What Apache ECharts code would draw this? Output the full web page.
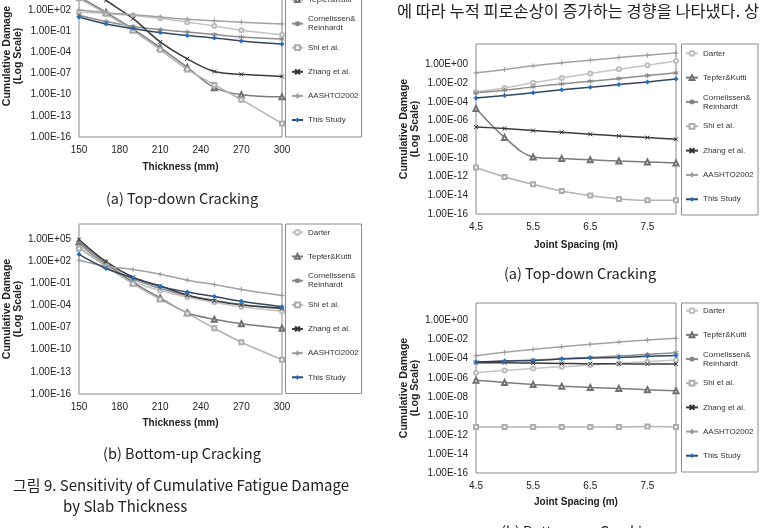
<!DOCTYPE html>
<html>
<head>
<meta charset="utf-8">
<script src="https://cdn.jsdelivr.net/npm/echarts@6/dist/echarts.min.js"></script>
<style>
html, body { margin: 0; padding: 0; background: #fff; }
#chart { width: 761px; height: 528px; }
</style>
</head>
<body>
<div id="chart"></div>
<script>
// 범례 순서
var seriesNames = ['Darter', 'Tepfer&Kutti', 'Cornelissen&Reinhardt', 'Shi et al.', 'Zhang et al.', 'AASHTO2002', 'This Study'];

// x 값
var thickness = [150, 170, 190, 210, 230, 250, 270, 300];
var jointSpacing = [4.5, 5, 5.5, 6, 6.5, 7, 7.5, 8];

// 누적 피로손상의 log10 값 (행 순서 = seriesNames)
var thickTopDown = [
  [1.76, 1.55, 1.25, 0.85, 0.3, -0.25, -0.85, -1.5],
  [3.9, 1.7, -0.7, -3.3, -6.1, -9.0, -10.0, -10.3],
  [1.3, 0.4, -0.3, -0.75, -1.1, -1.45, -1.8, -2.1],
  [3.7, 1.5, -0.9, -3.6, -6.4, -8.6, -10.7, -14.1],
  [6.3, 3.4, 0.8, -2.5, -4.9, -6.7, -7.1, -7.4],
  [2.05, 1.65, 1.35, 1.05, 0.72, 0.5, 0.3, 0.05],
  [1.05, 0.05, -0.6, -1.18, -1.6, -1.95, -2.36, -2.8]
];
var thickBottomUp = [
  [4.0, 1.4, -0.8, -2.0, -2.9, -3.6, -4.2, -4.8],
  [4.6, 1.7, -0.9, -3.0, -5.0, -5.9, -6.5, -7.1],
  [4.4, 1.5, -0.5, -1.7, -2.7, -3.3, -3.9, -4.5],
  [3.7, 1.3, -1.1, -3.2, -5.1, -7.1, -9.0, -11.35],
  [4.9, 1.9, -0.2, -1.4, -2.6, -3.4, -3.95, -4.35],
  [2.1, 1.3, 0.85, 0.2, -0.6, -1.2, -1.85, -2.67],
  [2.9, 0.98, -0.3, -1.44, -2.21, -2.81, -3.45, -4.18]
];
var jointTopDown = [
  [-2.93, -2.5, -1.96, -1.43, -0.96, -0.5, -0.07, 0.39],
  [-4.71, -7.8, -9.89, -10.07, -10.2, -10.32, -10.42, -10.53],
  [-3.03, -2.75, -2.39, -2.07, -1.79, -1.5, -1.18, -0.89],
  [-11.03, -12.03, -12.82, -13.53, -14.03, -14.39, -14.53, -14.53],
  [-6.68, -6.85, -7.07, -7.25, -7.46, -7.64, -7.82, -8.0],
  [-0.89, -0.54, -0.14, 0.18, 0.46, 0.75, 1.0, 1.25],
  [-3.57, -3.32, -3.03, -2.71, -2.43, -2.14, -1.86, -1.54]
];
var jointBottomUp = [
  [-5.47, -5.23, -5.02, -4.84, -4.67, -4.49, -4.32, -4.14],
  [-6.25, -6.49, -6.7, -6.88, -7.02, -7.12, -7.26, -7.37],
  [-4.35, -4.25, -4.14, -4.0, -3.86, -3.72, -3.54, -3.37],
  [-11.16, -11.16, -11.16, -11.16, -11.16, -11.16, -11.12, -11.16],
  [-4.42, -4.42, -4.46, -4.49, -4.53, -4.53, -4.56, -4.56],
  [-3.68, -3.33, -3.02, -2.74, -2.49, -2.25, -2.04, -1.86],
  [-4.35, -4.25, -4.18, -4.04, -3.93, -3.86, -3.75, -3.65]
];

// 스타일
var lineColors = ['#c4c4c4', '#7b7b7b', '#8e8e8e', '#b3b3b3', '#3b3b3b', '#a2a2a2', '#34465f'];
var markerColors = ['#bdbdbd', '#707070', '#858585', '#acacac', '#333333', '#9a9a9a', '#1f6fbe'];
var symbols = ['emptyCircle', 'emptyTriangle', 'path://M4,0L4,8M0,2L8,6M0,6L8,2', 'emptyRect',
  'path://M0,0L8,8M0,8L8,0', 'path://M4,0L4,8M0,4L8,4', 'diamond'];
var symbolSizes = [4, 5, 5, 4, 4, 5, 5];
var font = "'Liberation Sans', Arial, sans-serif";
var krFont = "'Noto Sans CJK KR', sans-serif";

// 네 개 차트 배치
var panels = [
  { data: thickTopDown, xs: thickness, grid: { left: 79, top: -25, width: 203, height: 162 },
    xMin: 150, xMax: 300, xInt: 30, yMax: 7, yInt: 3, xName: 'Thickness (mm)', xGap: 25,
    box: [285.5, -25, 76, 162], legLeft: 291, iconW: 11, legY0: -24.6, legStep: 24.1 },
  { data: thickBottomUp, xs: thickness, grid: { left: 79, top: 224, width: 203, height: 170 },
    xMin: 150, xMax: 300, xInt: 30, yMax: 7, yInt: 3, xName: 'Thickness (mm)', xGap: 24,
    box: [285.5, 224, 76, 169.5], legLeft: 291, iconW: 11, legY0: 232.3, legStep: 24.17 },
  { data: jointTopDown, xs: jointSpacing, grid: { left: 476, top: 44, width: 200, height: 170 },
    xMin: 4.5, xMax: 8, xInt: 1, yMax: 2.2, yInt: 2, xName: 'Joint Spacing (m)', xGap: 26,
    box: [681.5, 44, 76.5, 171], legLeft: 685, iconW: 12, legY0: 53.3, legStep: 24.33 },
  { data: jointBottomUp, xs: jointSpacing, grid: { left: 476, top: 303, width: 200, height: 170 },
    xMin: 4.5, xMax: 8, xInt: 1, yMax: 1.85, yInt: 2, xName: 'Joint Spacing (m)', xGap: 24,
    box: [681.5, 303, 76.5, 169], legLeft: 685, iconW: 12, legY0: 310.7, legStep: 24.17 }
];

function expLabel(v) {
  if (v > 5.5 || Math.abs(v - Math.round(v)) > 1e-6) return '';
  var e = Math.round(v);
  var a = Math.abs(e);
  return '1.00E' + (e < 0 ? '-' : '+') + (a < 10 ? '0' : '') + a;
}

var grids = [], xAxes = [], yAxes = [], series = [], legends = [], graphics = [];

panels.forEach(function (p, c) {
  var g = Object.assign({ show: true, borderColor: '#8a8a8a', borderWidth: 1, backgroundColor: '#fff',
    containLabel: false, outerBoundsMode: 'none' }, p.grid);
  grids.push(g);
  var isJoint = p.xInt === 1;
  xAxes.push({
    type: 'value', gridIndex: c, min: p.xMin, max: p.xMax, interval: p.xInt,
    axisLine: { show: false }, axisTick: { show: false }, splitLine: { show: false },
    axisLabel: { fontSize: 10, color: '#222', fontFamily: font, margin: 8, showMaxLabel: !isJoint,
      formatter: function (v) { return isJoint ? v.toFixed(1) : String(v); } },
    name: p.xName, nameLocation: 'middle', nameGap: p.xGap,
    nameTextStyle: { fontSize: 10, fontWeight: 'bold', color: '#222', fontFamily: font }
  });
  yAxes.push({
    type: 'value', gridIndex: c, min: -16, max: p.yMax, interval: p.yInt,
    axisLine: { show: false }, axisTick: { show: false }, splitLine: { show: false },
    axisLabel: { fontSize: 10, color: '#222', fontFamily: font, margin: 8, showMaxLabel: false,
      formatter: isJoint ? function (v) { return v > 0.5 ? '' : expLabel(v); } : expLabel },
    name: 'Cumulative Damage\n(Log Scale)', nameLocation: 'middle', nameRotate: 90, nameGap: 55,
    nameTextStyle: { fontSize: 10.5, fontWeight: 'bold', color: '#222', fontFamily: font, lineHeight: 11 }
  });
  seriesNames.forEach(function (name, i) {
    var isPath = symbols[i].indexOf('path://') === 0;
    series.push({
      name: name, type: 'line', xAxisIndex: c, yAxisIndex: c,
      data: p.xs.map(function (x, k) { return [x, p.data[i][k]]; }),
      smooth: 0.35, symbol: symbols[i], symbolSize: symbolSizes[i], showAllSymbol: true,
      lineStyle: { color: lineColors[i], width: 1.5 },
      itemStyle: { color: markerColors[i], borderColor: isPath ? markerColors[i] : undefined,
        borderWidth: isPath ? 1 : (i === 6 ? 0 : 1) },
      emphasis: { disabled: true }, z: i === 6 ? 5 : 2
    });
    var twoLine = name === 'Cornelissen&Reinhardt';
    var yc = p.legY0 + i * p.legStep;
    legends.push({
      data: [name], orient: 'vertical', left: p.legLeft, top: twoLine ? yc - 13.5 : yc - 4,
      padding: 0, itemGap: 0, itemWidth: p.iconW, itemHeight: 6, selectedMode: false,
      formatter: function (n) { return n === 'Cornelissen&Reinhardt' ? 'Cornelissen&\nReinhardt' : n; },
      textStyle: twoLine
        ? { fontSize: 8, color: '#333', fontFamily: font, lineHeight: 9, padding: [9, 0, 0, 0] }
        : { fontSize: 8, color: '#333', fontFamily: font }
    });
  });
  graphics.push({
    type: 'rect', shape: { x: p.box[0], y: p.box[1], width: p.box[2], height: p.box[3] },
    style: { fill: '#fff', stroke: '#8a8a8a', lineWidth: 1 }, z: -1
  });
});

function txt(s, x, y, size, align) {
  return { type: 'text', x: x, y: y, z: 10,
    style: { text: s, fontSize: size, fontFamily: krFont, fill: '#222',
      textAlign: align || 'left', textVerticalAlign: 'middle' } };
}
graphics.push(txt('에 따라 누적 피로손상이 증가하는 경향을 나타냈다. 상', 397, 11, 16.4));
graphics.push(txt('(a) Top-down Cracking', 182, 198, 14.5, 'center'));
graphics.push(txt('(a) Top-down Cracking', 580, 273, 14.5, 'center'));
graphics.push(txt('(b) Bottom-up Cracking', 182, 453, 14.5, 'center'));
graphics.push(txt('(b) Bottom-up Cracking', 580, 531, 14.5, 'center'));
graphics.push(txt('그림 9. Sensitivity of Cumulative Fatigue Damage', 13, 485, 15));
graphics.push(txt('by Slab Thickness', 63, 506, 15));

var chart = echarts.init(document.getElementById('chart'));
chart.setOption({
  animation: false,
  backgroundColor: '#fff',
  textStyle: { fontFamily: font },
  grid: grids,
  xAxis: xAxes,
  yAxis: yAxes,
  legend: legends,
  graphic: graphics,
  series: series
});
</script>
</body>
</html>
